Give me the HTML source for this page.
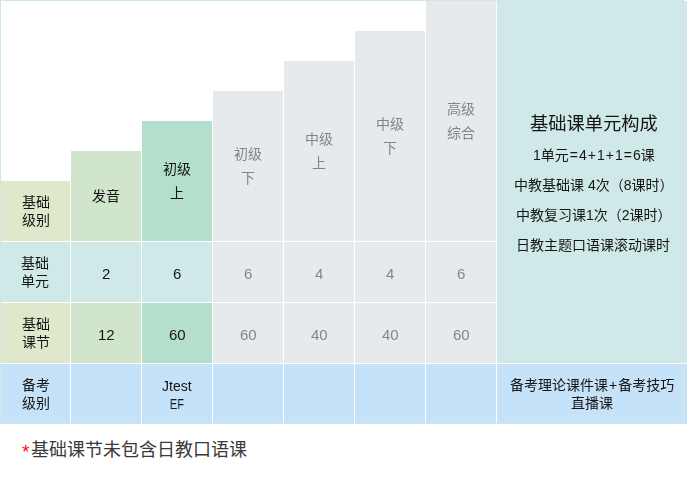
<!DOCTYPE html>
<html lang="zh-CN">
<head>
<meta charset="utf-8">
<title>基础课单元构成</title>
<style>
html,body{margin:0;padding:0;background:#fff}
body{width:700px;height:480px;position:relative;overflow:hidden;font-family:"Liberation Sans","Noto Sans CJK SC",sans-serif;font-size:14px}
.frame{position:absolute;left:0;top:0;width:682px;height:422px;border:1px solid #cce9e6;z-index:2;pointer-events:none}
.c{position:absolute;display:flex;flex-direction:column;align-items:center;justify-content:center;box-sizing:border-box}
.t{position:relative;text-align:center;font-size:14px;line-height:18px;white-space:nowrap}
.t.w{line-height:24px}
.ln{height:18px;display:flex;align-items:flex-start;justify-content:center}
.t.w .ln{height:24px}
.d{color:#151515;fill:#151515}
.gy{color:#858585;fill:#858585}
.l{display:block;white-space:pre;line-height:inherit;will-change:transform}
.n{font-size:15px;top:2px}
.jt{top:1px}
.jt .ln:last-child .l{transform:scaleX(.8)}
.op{padding:0 1px}
.panel{justify-content:flex-start;padding-left:3px}
.ttl{font-size:18.25px;margin-top:112px;line-height:22px}
.ttl .ln{height:22px}
.p{margin-top:12px;top:-1px}
.p .ln{height:18px}
.p4{left:-1px}
.k0{left:.5px}
.k1{left:-.5px}
.foot{position:absolute;left:22px;top:440px;height:20px;font-size:18px;line-height:20px;display:flex;color:#3a3a3a;fill:#3a3a3a;white-space:nowrap}
.star{color:#ff0000;width:9px;display:block;font-size:19px;position:relative;top:2px;will-change:transform}
</style>
</head>
<body>
<div class="c " style="left:1px;top:181px;width:69px;height:60px;background:#e0e8cc"><div class="t d k0"><div class="ln"><span class="l">基础</span></div><div class="ln"><span class="l">级别</span></div></div></div>
<div class="c " style="left:71px;top:151px;width:70px;height:90px;background:#d0e5cc"><div class="t d"><div class="ln"><span class="l">发音</span></div></div></div>
<div class="c " style="left:142px;top:121px;width:70px;height:120px;background:#b5dfcd"><div class="t d w"><div class="ln"><span class="l">初级</span></div><div class="ln"><span class="l">上</span></div></div></div>
<div class="c " style="left:213px;top:91px;width:70px;height:150px;background:#e6eaed"><div class="t gy w"><div class="ln"><span class="l">初级</span></div><div class="ln"><span class="l">下</span></div></div></div>
<div class="c " style="left:284px;top:61px;width:70px;height:180px;background:#e6eaed"><div class="t gy w"><div class="ln"><span class="l">中级</span></div><div class="ln"><span class="l">上</span></div></div></div>
<div class="c " style="left:355px;top:31px;width:70px;height:210px;background:#e6eaed"><div class="t gy w"><div class="ln"><span class="l">中级</span></div><div class="ln"><span class="l">下</span></div></div></div>
<div class="c " style="left:426px;top:1px;width:70px;height:240px;background:#e6eaed"><div class="t gy w"><div class="ln"><span class="l">高级</span></div><div class="ln"><span class="l">综合</span></div></div></div>
<div class="c " style="left:1px;top:242px;width:69px;height:60px;background:#cfe9e8"><div class="t d k1"><div class="ln"><span class="l">基础</span></div><div class="ln"><span class="l">单元</span></div></div></div>
<div class="c " style="left:71px;top:242px;width:70px;height:60px;background:#cfe9e8"><div class="t d n"><div class="ln"><span class="l">2</span></div></div></div>
<div class="c " style="left:142px;top:242px;width:70px;height:60px;background:#cfe9e8"><div class="t d n"><div class="ln"><span class="l">6</span></div></div></div>
<div class="c " style="left:213px;top:242px;width:70px;height:60px;background:#e6eaed"><div class="t gy n"><div class="ln"><span class="l">6</span></div></div></div>
<div class="c " style="left:284px;top:242px;width:70px;height:60px;background:#e6eaed"><div class="t gy n"><div class="ln"><span class="l">4</span></div></div></div>
<div class="c " style="left:355px;top:242px;width:70px;height:60px;background:#e6eaed"><div class="t gy n"><div class="ln"><span class="l">4</span></div></div></div>
<div class="c " style="left:426px;top:242px;width:70px;height:60px;background:#e6eaed"><div class="t gy n"><div class="ln"><span class="l">6</span></div></div></div>
<div class="c " style="left:1px;top:303px;width:69px;height:60px;background:#e0e8cc"><div class="t d k0"><div class="ln"><span class="l">基础</span></div><div class="ln"><span class="l">课节</span></div></div></div>
<div class="c " style="left:71px;top:303px;width:70px;height:60px;background:#d0e5cc"><div class="t d n"><div class="ln"><span class="l">12</span></div></div></div>
<div class="c " style="left:142px;top:303px;width:70px;height:60px;background:#b5dfcd"><div class="t d n"><div class="ln"><span class="l">60</span></div></div></div>
<div class="c " style="left:213px;top:303px;width:70px;height:60px;background:#e6eaed"><div class="t gy n"><div class="ln"><span class="l">60</span></div></div></div>
<div class="c " style="left:284px;top:303px;width:70px;height:60px;background:#e6eaed"><div class="t gy n"><div class="ln"><span class="l">40</span></div></div></div>
<div class="c " style="left:355px;top:303px;width:70px;height:60px;background:#e6eaed"><div class="t gy n"><div class="ln"><span class="l">40</span></div></div></div>
<div class="c " style="left:426px;top:303px;width:70px;height:60px;background:#e6eaed"><div class="t gy n"><div class="ln"><span class="l">60</span></div></div></div>
<div class="c " style="left:1px;top:364px;width:69px;height:60px;background:#c6e2f9"><div class="t d k0"><div class="ln"><span class="l">备考</span></div><div class="ln"><span class="l">级别</span></div></div></div>
<div class="c " style="left:71px;top:364px;width:70px;height:60px;background:#c6e2f9"></div>
<div class="c " style="left:142px;top:364px;width:70px;height:60px;background:#c6e2f9"><div class="t d jt"><div class="ln"><span class="l">Jtest</span></div><div class="ln"><span class="l">EF</span></div></div></div>
<div class="c " style="left:213px;top:364px;width:70px;height:60px;background:#c6e2f9"></div>
<div class="c " style="left:284px;top:364px;width:70px;height:60px;background:#c6e2f9"></div>
<div class="c " style="left:355px;top:364px;width:70px;height:60px;background:#c6e2f9"></div>
<div class="c " style="left:426px;top:364px;width:70px;height:60px;background:#c6e2f9"></div>
<div class="c panel" style="left:497px;top:1px;width:190px;height:362px;background:#cfe9e8"><div class="t d ttl"><div class="ln"><span class="l">基础课单元构成</span></div></div><div class="t d p"><div class="ln"><span class="l">1单元<span class="op">=</span>4<span class="op">+</span>1<span class="op">+</span>1<span class="op">=</span>6课</span></div></div><div class="t d p"><div class="ln"><span class="l">中教基础课 4次（8课时）</span></div></div><div class="t d p"><div class="ln"><span class="l">中教复习课1次（2课时）</span></div></div><div class="t d p p4"><div class="ln"><span class="l">日教主题口语课滚动课时</span></div></div></div>
<div class="c " style="left:497px;top:364px;width:190px;height:60px;background:#c6e2f9"><div class="t d"><div class="ln"><span class="l">备考理论课件课<span class="op">+</span>备考技巧</span></div><div class="ln"><span class="l">直播课</span></div></div></div>
<div class="foot"><span class="star">*</span><span>基础课节未包含日教口语课</span></div>
<div class="frame"></div>
</body>
</html>
